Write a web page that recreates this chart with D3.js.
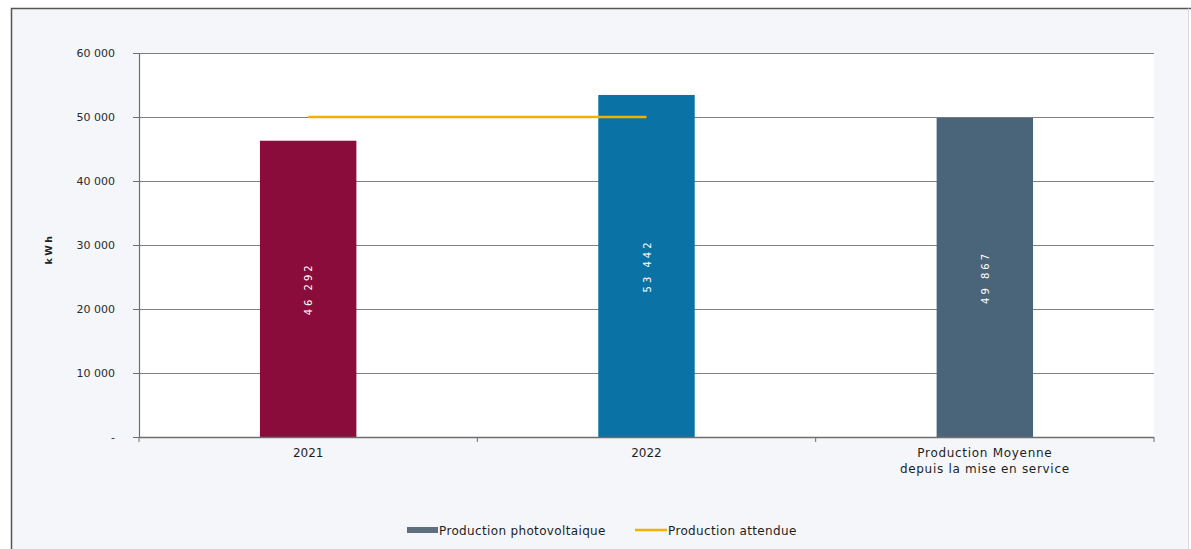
<!DOCTYPE html>
<html><head><meta charset="utf-8">
<script src="https://cdn.jsdelivr.net/npm/d3@7"></script>
<style>
html,body{margin:0;padding:0;background:#fff;}
svg{display:block;font-family:"DejaVu Sans",Verdana,sans-serif;}
</style></head>
<body>
<svg id="chart" width="1191" height="549"></svg>
<script>
const categories = ["2021", "2022", "Production Moyenne|depuis la mise en service"];
const production = [46292, 53442, 49867];
const valueLabels = ["46 292", "53 442", "49 867"];
const barColors = ["#8a0c3b", "#0a72a5", "#4a657a"];
const expectedCats = ["2021", "2022"];
const expected = [50000, 50000];
const yTicks = [0, 10000, 20000, 30000, 40000, 50000, 60000];
const yTickLabels = ["-", "10 000", "20 000", "30 000", "40 000", "50 000", "60 000"];
const legendLabels = ["Production photovoltaique", "Production attendue"];

const svg = d3.select("#chart");
const W = 1191, H = 549;
const m = {left: 139, right: 1154, top: 53, bottom: 437};

// frame background
svg.append("rect").attr("x", 0).attr("y", 0).attr("width", W).attr("height", H).attr("fill", "#ffffff");
svg.append("rect").attr("x", 11).attr("y", 8).attr("width", 1177).attr("height", 541)
  .attr("fill", "#f4f6f9");
svg.append("path").attr("d", "M11.5,549 L11.5,8.5 L1191,8.5")
  .attr("fill", "none").attr("stroke", "#555").attr("stroke-width", 1.5);
svg.append("path").attr("d", "M1188.5,8.5 L1188.5,549")
  .attr("fill", "none").attr("stroke", "#d8dade").attr("stroke-width", 1);

const x = d3.scaleBand().domain(categories).range([m.left, m.right]).padding(0);
const y = d3.scaleLinear().domain([0, 60000]).range([m.bottom, m.top]);
const bw = x.bandwidth() * 0.285;

// plot background
svg.append("rect").attr("x", m.left).attr("y", m.top).attr("width", m.right - m.left)
  .attr("height", m.bottom - m.top).attr("fill", "#ffffff");

// gridlines
svg.append("g").selectAll("line").data(yTicks.filter(d => d > 0)).join("line")
  .attr("x1", m.left).attr("x2", m.right)
  .attr("y1", d => Math.round(y(d)) + 0.5).attr("y2", d => Math.round(y(d)) + 0.5)
  .attr("stroke", "#808080").attr("stroke-width", 1.2);

// y axis
const yAxis = d3.axisLeft(y).tickValues(yTicks).tickSize(6).tickPadding(18)
  .tickFormat((d, i) => yTickLabels[i]);
const gy = svg.append("g").attr("transform", `translate(${m.left},0)`).call(yAxis);
gy.select(".domain").attr("stroke", "#6e6e6e").attr("stroke-width", 1.2);
gy.selectAll(".tick line").attr("stroke", "#6e6e6e");
gy.selectAll(".tick text").attr("fill", "#2a2a2a").style("font-size", "11px")
  .style("font-family", "'DejaVu Sans',sans-serif");

// bars
svg.append("g").selectAll("rect").data(categories).join("rect")
  .attr("x", d => x(d) + x.bandwidth() / 2 - bw / 2)
  .attr("width", bw)
  .attr("y", (d, i) => y(production[i]))
  .attr("height", (d, i) => y(0) - y(production[i]))
  .attr("fill", (d, i) => barColors[i]);

// value labels inside bars
svg.append("g").selectAll("text").data(categories).join("text")
  .attr("transform", (d, i) => `translate(${x(d) + x.bandwidth() / 2 + 4},${(y(production[i]) + y(0)) / 2}) rotate(-90)`)
  .attr("text-anchor", "middle")
  .attr("fill", "#ffffff")
  .style("font-size", "10px")
  .style("letter-spacing", "3px")
  .text((d, i) => valueLabels[i]);

// x axis
const gx = svg.append("g").attr("transform", `translate(0,${m.bottom})`);
gx.append("line").attr("x1", m.left).attr("x2", m.right).attr("y1", 0.5).attr("y2", 0.5)
  .attr("stroke", "#6e6e6e").attr("stroke-width", 1.5);
const bounds = categories.map(d => x(d)).concat([m.right]);
gx.selectAll("line.tk").data(bounds).join("line").attr("class", "tk")
  .attr("x1", d => d).attr("x2", d => d).attr("y1", 0).attr("y2", 5)
  .attr("stroke", "#6e6e6e");
const cl = gx.selectAll("text").data(categories).join("text")
  .attr("x", d => x(d) + x.bandwidth() / 2)
  .attr("y", 20)
  .attr("text-anchor", "middle")
  .attr("fill", "#1e1e1e")
  .style("font-size", "12px");
cl.each(function(d) {
  const parts = d.split("|");
  const t = d3.select(this);
  if (parts.length > 1) t.style("letter-spacing", "0.7px");
  parts.forEach((p, j) => t.append("tspan").attr("x", x(d) + x.bandwidth() / 2).attr("dy", j === 0 ? 0 : 16).text(p));
});

// expected line
const xc = d => x(d === "2021" ? categories[0] : categories[1]) + x.bandwidth() / 2;
const line = d3.line().x((d, i) => xc(expectedCats[i])).y(d => y(d));
svg.append("path").datum(expected).attr("d", line)
  .attr("fill", "none").attr("stroke", "#f2b000").attr("stroke-width", 2.5);

// y axis title
svg.append("text").attr("transform", "translate(52,249) rotate(-90)")
  .attr("text-anchor", "middle").attr("fill", "#222")
  .style("font-size", "9.5px").style("font-weight", "bold").style("letter-spacing", "2.5px")
  .text("kWh");

// legend
const lg = svg.append("g");
lg.append("rect").attr("x", 407).attr("y", 527).attr("width", 31).attr("height", 6).attr("fill", "#5d6f7d");
lg.append("text").attr("x", 439).attr("y", 535).attr("fill", "#1e1e1e")
  .style("font-size", "12px").style("letter-spacing", "0.35px").text(legendLabels[0]);
lg.append("line").attr("x1", 635).attr("x2", 667).attr("y1", 530).attr("y2", 530)
  .attr("stroke", "#f2b000").attr("stroke-width", 2.5);
lg.append("text").attr("x", 668).attr("y", 535).attr("fill", "#1e1e1e")
  .style("font-size", "12px").style("letter-spacing", "0.35px").text(legendLabels[1]);
</script>
</body></html>
